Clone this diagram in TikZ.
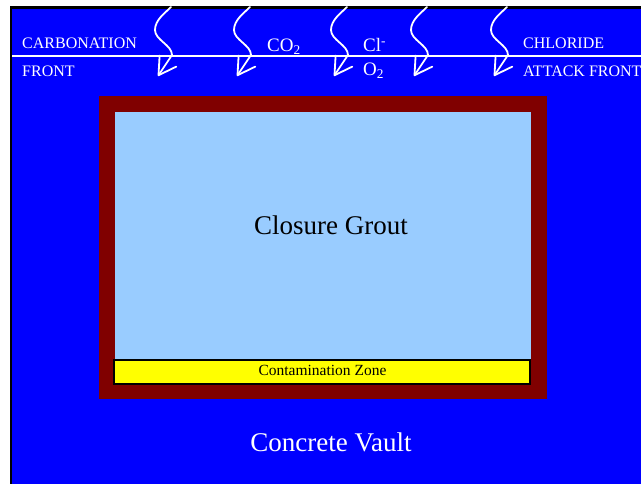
\documentclass[tikz,border=0pt]{standalone}
\usepackage{fontspec}
\setmainfont{Liberation Serif}
\usetikzlibrary{arrows.meta}

\definecolor{vaultblue}{HTML}{0000FF}
\definecolor{shellbrown}{HTML}{800000}
\definecolor{groutblue}{HTML}{99CCFF}
\definecolor{zoneyellow}{HTML}{FFFF00}

\tikzset{
  fsize/.style={font=\fontsize{#1}{#1}\selectfont},
  whitelabel/.style={text=white, inner sep=0pt, anchor=base west, fsize=16},
  species/.style={text=white, inner sep=0pt, anchor=base west, fsize=19},
  ingressline/.style={draw=white, line width=1.8pt, line cap=round, line join=round,
    -{Straight Barb[length=17pt,width=20pt,line cap=round,line join=round]}},
  ingress/.pic={
    \draw[ingressline] (0,0) .. controls (-6,6) and (-16,13) .. (-16,23)
      .. controls (-16,33) and (1,38) .. (1,48) -- (-13,69);
  }
}

\begin{document}
\begin{tikzpicture}[x=1pt,y=-1pt]
  \useasboundingbox (0,0) rectangle (641,484);

  % concrete vault body with its black outline
  \draw[fill=vaultblue, draw=black, line width=2.5pt] (11,7.5) rectangle (660,500);

  % boundary between the two attack fronts
  \draw[white, line width=1.6pt] (12,56) -- (641,56);

  % waste form: steel shell, grout fill and contaminated layer
  \fill[shellbrown] (99,96) rectangle (547,399);
  \fill[groutblue] (115,112) rectangle (531,384);
  \draw[fill=zoneyellow, draw=black, line width=2pt] (114,360) rectangle (530,383.5);

  % carbonation and chloride ingress arrows
  \foreach \ax in {171,250,347,427,507}
    \pic at (\ax,7) {ingress};

  % labels
  \node[whitelabel] (carb) at (22,49) {CARBONATION};
  \node[whitelabel] (carbfront) at (22,77) {FRONT};
  \node[whitelabel] (chlor) at (523,49) {CHLORIDE};
  \node[whitelabel] (chlorfront) at (523,77) {ATTACK FRONT};
  \node[species] (co2) at (267,52) {CO\textsubscript{2}};
  \node[species] (cl) at (363,52) {Cl\textsuperscript{-}};
  \node[species] (o2) at (363,76) {O\textsubscript{2}};

  \node[inner sep=0pt, anchor=base, fsize=27] (grout) at (331,235) {Closure Grout};
  \node[inner sep=0pt, anchor=base, fsize=15.5] (zone) at (322.5,375) {Contamination Zone};
  \node[inner sep=0pt, anchor=base, fsize=27, text=white] (vault) at (331,451) {Concrete Vault};
\end{tikzpicture}
\end{document}
